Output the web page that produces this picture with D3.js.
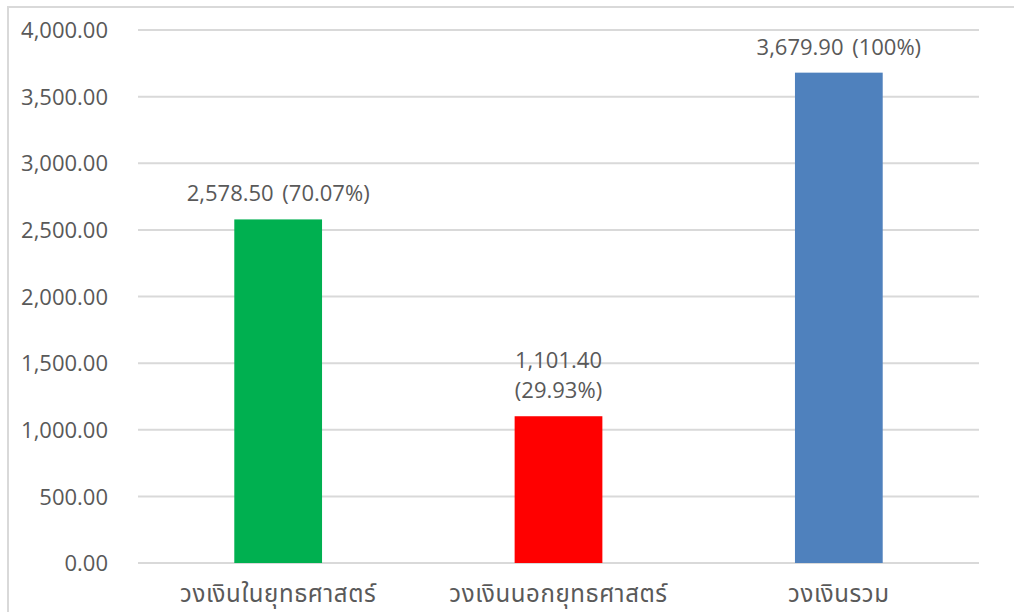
<!DOCTYPE html>
<html><head><meta charset="utf-8">
<script src="https://cdn.jsdelivr.net/npm/d3@7"></script>
<style>
body{margin:0;background:#fff;}
svg{display:block;}
</style></head>
<body>
<svg id="c" width="1014" height="612"></svg>
<script>
const categories = ["วงเงินในยุทธศาสตร์", "วงเงินนอกยุทธศาสตร์", "วงเงินรวม"];
const values = [2578.50, 1101.40, 3679.90];
const labelLines = [["2,578.50 (70.07%)"], ["1,101.40", "(29.93%)"], ["3,679.90 (100%)"]];
const colors = ["#00b050", "#ff0000", "#4f81bd"];
const yTicks = [0, 500, 1000, 1500, 2000, 2500, 3000, 3500, 4000];

const svg = d3.select("#c");
const W = 1014, H = 612;
const m = {left: 138, right: 979, top: 30, bottom: 563};
const font = "'Open Sans', 'Noto Sans', sans-serif";
const thaiFont = "'Leelawadee UI', Tahoma, 'Noto Sans Thai', 'Noto Sans', 'DejaVu Sans', sans-serif";

// chart border (top and left visible)
svg.append("line").attr("x1", 8).attr("x2", W).attr("y1", 7).attr("y2", 7).attr("stroke", "#d9d9d9").attr("stroke-width", 2);
svg.append("line").attr("x1", 8).attr("x2", 8).attr("y1", 6).attr("y2", H).attr("stroke", "#d9d9d9").attr("stroke-width", 2);

const x = d3.scaleBand().domain(categories).range([m.left, m.right]).paddingInner(0.687).paddingOuter(0.3435);
const y = d3.scaleLinear().domain([0, 4000]).range([m.bottom, m.top]);

// gridlines
svg.append("g").selectAll("line").data(yTicks).join("line")
  .attr("x1", m.left).attr("x2", m.right)
  .attr("y1", d => y(d)).attr("y2", d => y(d))
  .attr("stroke", "#d9d9d9").attr("stroke-width", 2);

// y axis labels
const yAxis = d3.axisLeft(y).tickValues(yTicks).tickSize(0).tickPadding(0)
  .tickFormat(d3.format(",.2f"));
const ya = svg.append("g").attr("transform", `translate(108,0)`).call(yAxis);
ya.select(".domain").remove();
ya.selectAll("text").attr("font-family", font).attr("font-size", 22).attr("fill", "#595959").attr("dy", "0.35em");

// bars
svg.append("g").selectAll("rect").data(values).join("rect")
  .attr("x", (d, i) => x(categories[i]))
  .attr("width", x.bandwidth())
  .attr("y", d => y(d))
  .attr("height", d => y(0) - y(d))
  .attr("fill", (d, i) => colors[i]);

// value labels
const lg = svg.append("g");
values.forEach((v, i) => {
  const lines = labelLines[i];
  const cx = x(categories[i]) + x.bandwidth() / 2;
  const t = lg.append("text").attr("text-anchor", "middle")
    .attr("font-family", font).attr("font-size", 22).attr("fill", "#595959")
    .attr("word-spacing", 3);
  lines.forEach((ln, j) => {
    t.append("tspan").attr("x", cx)
      .attr("y", y(v) - 18 - (lines.length - 1 - j) * 30)
      .text(ln);
  });
});

// x axis labels
const xAxis = d3.axisBottom(x).tickSize(0).tickPadding(0);
const xa = svg.append("g").attr("transform", `translate(0,602)`).call(xAxis);
xa.select(".domain").remove();
xa.selectAll("text").attr("font-family", thaiFont).attr("font-size", 24).attr("fill", "#595959").attr("dy", 0)
  .attr("letter-spacing", 0.6);
</script>
</body></html>
